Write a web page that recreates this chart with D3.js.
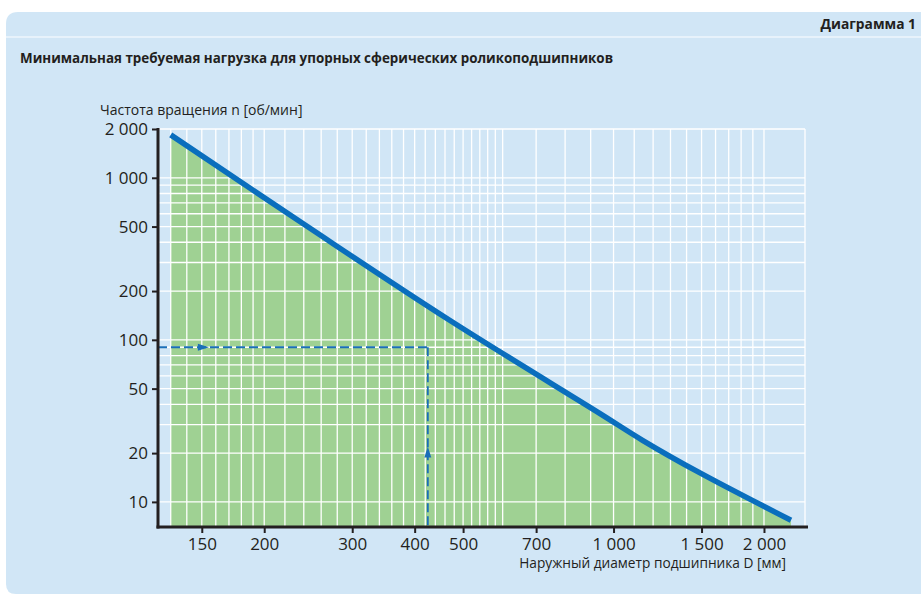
<!DOCTYPE html>
<html lang="ru">
<head>
<meta charset="UTF-8">
<title>Диаграмма 1</title>
<script src="https://cdn.jsdelivr.net/npm/d3@7"></script>
<style>
  body { margin: 0; background: #fff; }
  svg { display: block; font-family: "Open Sans", "Noto Sans", sans-serif; }
</style>
</head>
<body>
<script>
// данные: наружный диаметр D [мм] и частота вращения n [об/мин]
var lineD = [130, 244, 470, 938, 1143, 1483, 2265];
var lineN = [1840, 500, 132, 35.2, 24, 15.2, 7.7];

// пример чтения диаграммы (пунктир)
var exampleD = 425;
var exampleN = 90;

// подписи осей
var xTicks = [150, 200, 300, 400, 500, 700, 1000, 1500, 2000];
var yTicks = [10, 20, 50, 100, 200, 500, 1000, 2000];

// линии сетки
var xGrid = [130, 140, 150, 160, 170, 180, 190, 200, 220, 240, 260, 280, 300, 320, 340, 360, 380, 400,
             420, 440, 460, 480, 500, 520, 540, 560, 580, 600, 700, 800, 900, 1000, 1100, 1200, 1300,
             1400, 1500, 1600, 1700, 1800, 1900, 2000];
var yGrid = [10, 20, 30, 40, 50, 60, 70, 80, 90, 100, 200, 300, 400, 500, 600, 700, 800, 900, 1000, 2000];

var width = 921, height = 594;
var plotL = 158, plotR = 805, plotT = 129, plotB = 527;

var svg = d3.select("body").append("svg")
    .attr("width", width)
    .attr("height", height);

// фон панели
svg.append("path")
    .attr("d", "M6,24 Q6,12 18,12 L921,12 L921,594 L16,594 Q6,594 6,584 Z")
    .attr("fill", "#d1e6f6");
svg.append("line")
    .attr("x1", 6).attr("x2", 921).attr("y1", 37).attr("y2", 37)
    .attr("stroke", "#eef6fc").attr("stroke-width", 1.5);

svg.append("text")
    .attr("x", 916).attr("y", 29)
    .attr("text-anchor", "end")
    .attr("font-size", 13.8).attr("font-weight", "bold")
    .attr("fill", "#231f20")
    .text("Диаграмма 1");

svg.append("text")
    .attr("x", 20).attr("y", 63)
    .attr("font-size", 13.4).attr("font-weight", "bold")
    .attr("fill", "#231f20")
    .text("Минимальная требуемая нагрузка для упорных сферических роликоподшипников");

// шкалы
var x = d3.scaleLog().domain([122.6, 2416]).range([plotL, plotR]);
var y = d3.scaleLog().domain([7, 2000]).range([plotB, plotT]);

var curve = d3.curveCatmullRom.alpha(0.5);

// заливка под линией
var area = d3.area()
    .curve(curve)
    .x(function(d, i) { return x(lineD[i]); })
    .y0(plotB)
    .y1(function(d, i) { return y(lineN[i]); });

svg.append("path")
    .datum(lineD)
    .attr("d", area)
    .attr("fill", "#9fd193");

// сетка
var grid = svg.append("g").attr("stroke", "#ffffff").attr("stroke-width", 1.3);
grid.selectAll(".gx")
    .data(xGrid)
    .enter().append("line")
    .attr("x1", function(d) { return x(d); })
    .attr("x2", function(d) { return x(d); })
    .attr("y1", plotT).attr("y2", plotB);
grid.selectAll(".gy")
    .data(yGrid)
    .enter().append("line")
    .attr("x1", plotL).attr("x2", plotR)
    .attr("y1", function(d) { return y(d); })
    .attr("y2", function(d) { return y(d); });
grid.append("line")
    .attr("x1", plotR).attr("x2", plotR)
    .attr("y1", plotT).attr("y2", plotB);

// пунктир примера
var dash = svg.append("g")
    .attr("stroke", "#1a6fb8").attr("stroke-width", 1.8)
    .attr("stroke-dasharray", "9,4").attr("fill", "none");
dash.append("line")
    .attr("x1", plotL).attr("x2", x(exampleD))
    .attr("y1", y(exampleN)).attr("y2", y(exampleN));
dash.append("line")
    .attr("x1", x(exampleD)).attr("x2", x(exampleD))
    .attr("y1", y(exampleN)).attr("y2", plotB);

// стрелки
var ax = x(155), ay = y(exampleN);
svg.append("path")
    .attr("d", "M" + (ax - 11) + "," + (ay - 3.5) + " L" + ax + "," + ay + " L" + (ax - 11) + "," + (ay + 3.5) + " Z")
    .attr("fill", "#1a6fb8");
var bx = x(exampleD), by = y(22);
svg.append("path")
    .attr("d", "M" + (bx - 3.5) + "," + (by + 11) + " L" + bx + "," + by + " L" + (bx + 3.5) + "," + (by + 11) + " Z")
    .attr("fill", "#1a6fb8");

// основная линия
var line = d3.line()
    .curve(curve)
    .x(function(d, i) { return x(lineD[i]); })
    .y(function(d, i) { return y(lineN[i]); });
svg.append("path")
    .datum(lineD)
    .attr("d", line)
    .attr("fill", "none")
    .attr("stroke", "#0a6ebd")
    .attr("stroke-width", 5.5);

// оси
function fmt(v) {
    return v >= 1000 ? Math.floor(v / 1000) + " " + d3.format("03d")(v % 1000) : String(v);
}

var xAxis = d3.axisBottom(x).tickValues(xTicks).tickFormat(fmt).tickSize(6).tickPadding(5);
var yAxis = d3.axisLeft(y).tickValues(yTicks).tickFormat(fmt).tickSize(6).tickPadding(4);

var gx = svg.append("g").attr("transform", "translate(0," + plotB + ")").call(xAxis);
var gy = svg.append("g").attr("transform", "translate(" + plotL + ",0)").call(yAxis);

[gx, gy].forEach(function(g) {
    g.select(".domain").remove();
    g.selectAll(".tick line").attr("stroke", "#231f20").attr("stroke-width", 2);
    g.selectAll(".tick text")
        .attr("fill", "#231f20")
        .attr("font-size", 17)
        .attr("font-family", "'Open Sans', 'Noto Sans', sans-serif");
});

svg.append("line")
    .attr("x1", plotL).attr("x2", plotL)
    .attr("y1", plotT - 1).attr("y2", plotB + 1.5)
    .attr("stroke", "#231f20").attr("stroke-width", 3);
svg.append("line")
    .attr("x1", plotL - 1.5).attr("x2", plotR + 3)
    .attr("y1", plotB).attr("y2", plotB)
    .attr("stroke", "#231f20").attr("stroke-width", 3);

// подписи осей
svg.append("text")
    .attr("x", 100).attr("y", 115)
    .attr("font-size", 14)
    .attr("fill", "#231f20")
    .text("Частота вращения n [об/мин]");

svg.append("text")
    .attr("x", 786).attr("y", 568)
    .attr("text-anchor", "end")
    .attr("font-size", 13.7)
    .attr("fill", "#231f20")
    .text("Наружный диаметр подшипника D [мм]");
</script>
</body>
</html>
